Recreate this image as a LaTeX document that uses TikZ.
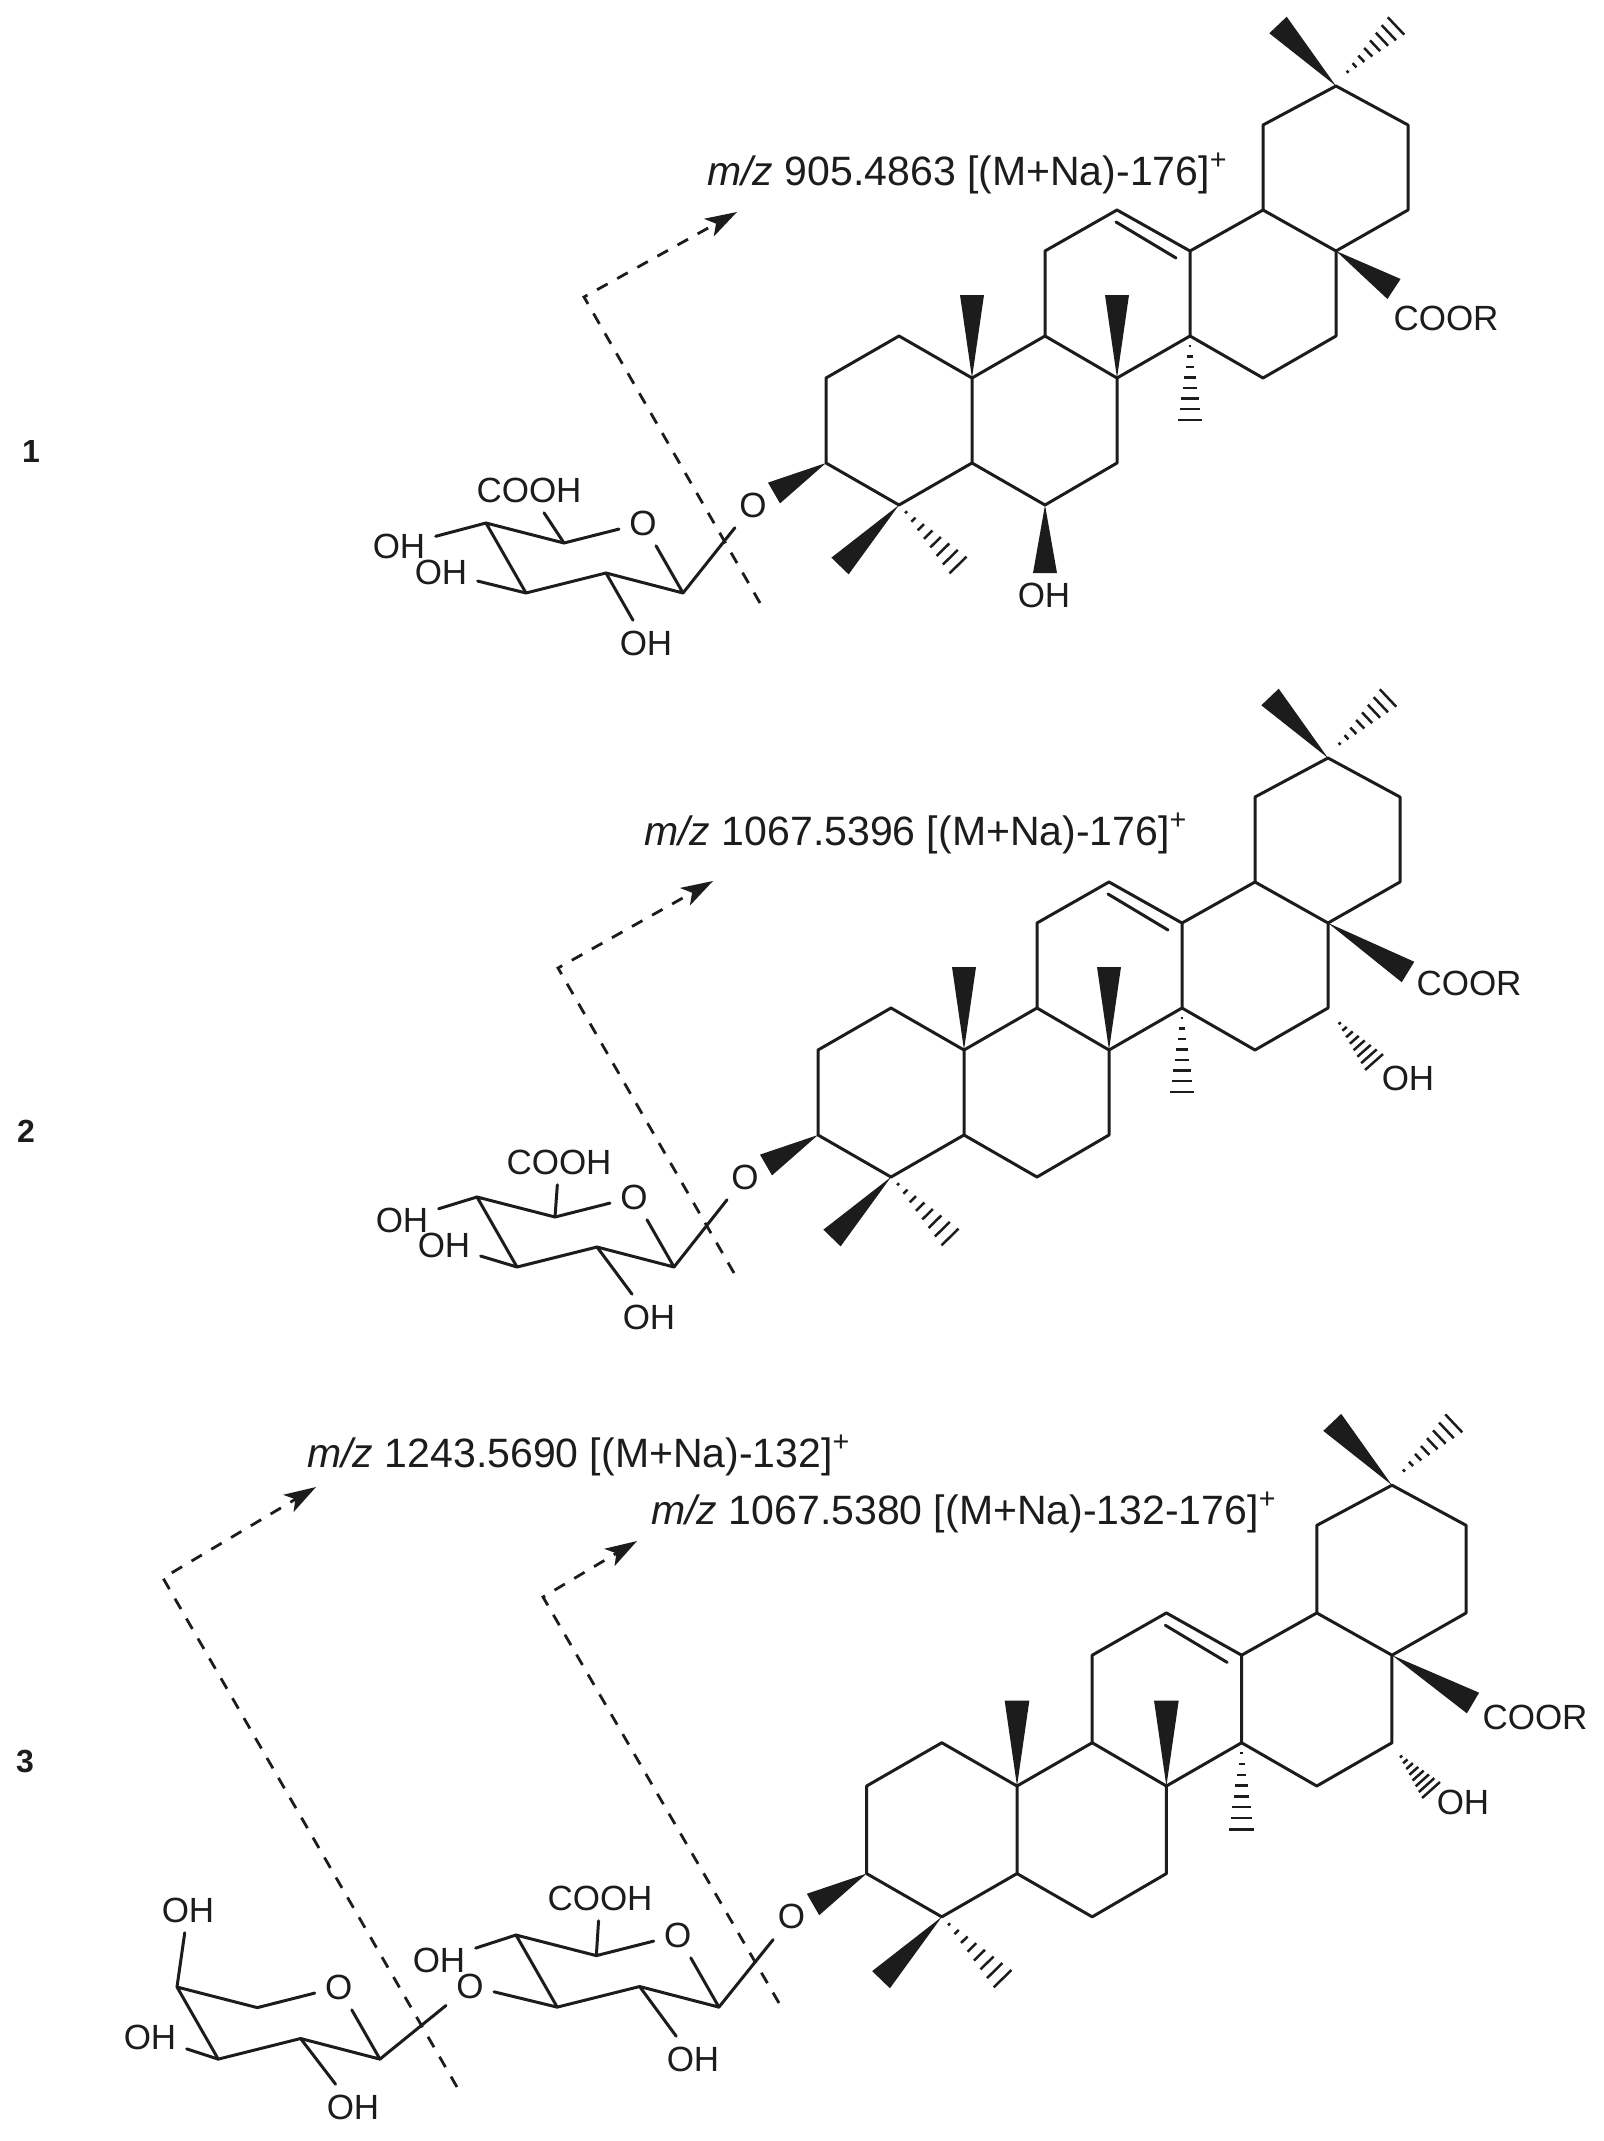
\documentclass[tikz,border=0pt]{standalone}
\usepackage{fontspec}
\setmainfont{Liberation Sans}
\usetikzlibrary{arrows.meta}
\usetikzlibrary{calc}
\definecolor{inkgray}{HTML}{1C1C1C}

% Solid wedge and hashed bond between two named atoms
\newcommand{\wedgebond}[2]{\fill[bond_fill] (#1) -- ($(#2)!6pt!90:(#1)$) -- ($(#2)!6pt!-90:(#1)$) -- cycle;}
\newcommand{\hashbond}[2]{\foreach \hpos in {0.12,0.245,0.37,0.495,0.62,0.745,0.87,1}{
    \draw[hash_line] ($(#1)!\hpos!(#2)!\hpos*6pt!90:(#1)$) -- ($(#1)!\hpos!(#2)!\hpos*6pt!-90:(#1)$);}}

% Triterpene skeleton, origin at c10
\newcommand{\triterpene}{
    \coordinate (c10) at (0,0);
    \coordinate (c5) at (0,85);
    \coordinate (c1) at (-73,-42);
    \coordinate (c2) at (-146,0);
    \coordinate (c3) at (-146,85);
    \coordinate (c4) at (-73,127);
    \coordinate (c9) at (73,-42);
    \coordinate (c8) at (145,0);
    \coordinate (c7) at (145,85);
    \coordinate (c6) at (73,127);
    \coordinate (c11) at (73,-127);
    \coordinate (c12) at (145,-168);
    \coordinate (c13) at (218,-127);
    \coordinate (c14) at (218,-42);
    \coordinate (c15) at (291,0);
    \coordinate (c16) at (364,-42);
    \coordinate (c17) at (364,-127);
    \coordinate (c18) at (291,-168);
    \coordinate (c19) at (291,-253);
    \coordinate (c20) at (364,-292);
    \coordinate (c21) at (436,-253);
    \coordinate (c22) at (436,-168);
    \coordinate (inner12) at (144,-156);
    \coordinate (inner13) at (204,-120);
    % Methyl ends
    \coordinate (m10) at (0,-83);
    \coordinate (m8) at (145,-83);
    \coordinate (m14) at (218,42);
    \coordinate (m20a) at (306,-353);
    \coordinate (m20b) at (424,-352);
    \coordinate (h20) at (369,-300);
    \coordinate (m3) at (-198,115);
    \coordinate (m4a) at (-132,188);
    \coordinate (m4b) at (-14,187);
    \node[atom] (o3) at (-219,127) {O};
    % Ring bonds
    \draw[bond] (c3) -- (c2) -- (c1) -- (c10) -- (c5) -- (c4) -- (c3);
    \draw[bond] (c5) -- (c6) -- (c7) -- (c8) -- (c9) -- (c10);
    \draw[bond] (c9) -- (c11) -- (c12) -- (c13) -- (c14) -- (c8);
    \draw[bond] (c14) -- (c15) -- (c16) -- (c17) -- (c18) -- (c13);
    \draw[bond] (c18) -- (c19) -- (c20) -- (c21) -- (c22) -- (c17);
    \draw[bond] (inner12) -- (inner13);
    % Stereo bonds
    \wedgebond{c10}{m10}
    \wedgebond{c8}{m8}
    \hashbond{c14}{m14}
    \wedgebond{c20}{m20a}
    \hashbond{h20}{m20b}
    \wedgebond{c3}{m3}
    \wedgebond{c4}{m4a}
    \hashbond{c4}{m4b}
}

% Pyranose ring, origin at the carbon top left
\newcommand{\sugarring}{
    \coordinate (a) at (0,0);
    \coordinate (b) at (78,20);
    \node[atom] (o) at (157,0) {O};
    \coordinate (d) at (197,70);
    \coordinate (e) at (120,50);
    \coordinate (f) at (40,70);
    \draw[bond] (a) -- (b) -- (o) -- (d) -- (e) -- (f) -- (a);
}

\begin{document}
\begin{tikzpicture}[
        x=0.5pt, y=-0.5pt,
        bond/.style={line width=1.5pt, inkgray, line cap=round, line join=round},
        bond_fill/.style={fill=inkgray},
        hash_line/.style={line width=1.25pt, inkgray},
        atom/.style={font=\fontsize{17.5}{20}\selectfont, text=inkgray, inner sep=5pt},
        ion_label/.style={font=\fontsize{20.5}{24}\selectfont, text=inkgray, anchor=base west, inner sep=0pt},
        number_label/.style={font=\fontsize{16}{18}\selectfont\bfseries, text=inkgray},
        cut_line/.style={line width=1.4pt, inkgray, dash pattern=on 6pt off 5.5pt, -{Stealth[length=16pt, width=10pt, inset=4pt]}}
    ]
    \useasboundingbox (0,0) rectangle (1603,2141);

    % Compound numbers
    \node[number_label] (num_one) at (31,451) {1};
    \node[number_label] (num_two) at (26,1131) {2};
    \node[number_label] (num_three) at (25,1761) {3};

    % Compound 1
    \begin{scope}[shift={(972,378)}, name prefix=one_]
        \triterpene
    \end{scope}
    \begin{scope}[shift={(486,523)}, name prefix=oneg_]
        \sugarring
    \end{scope}
    \coordinate (one_m6) at (1045,573);
    \coordinate (one_m17) at (1394,289);
    \node[atom] (one_oh6) at (1044,595) {OH};
    \node[atom] (one_coor) at (1446,318) {COOR};
    \wedgebond{one_c6}{one_m6}
    \wedgebond{one_c17}{one_m17}
    \node[atom] (oneg_oha) at (399,546) {OH};
    \node[atom] (oneg_ohf) at (441,572) {OH};
    \node[atom] (oneg_cooh) at (529,490) {COOH};
    \node[atom] (oneg_ohe) at (646,643) {OH};
    \draw[bond] (oneg_a) -- (oneg_oha);
    \draw[bond] (oneg_f) -- (oneg_ohf);
    \draw[bond] (oneg_b) -- (oneg_cooh);
    \draw[bond] (oneg_e) -- (oneg_ohe);
    \draw[bond] (oneg_d) -- (one_o3);
    \coordinate (one_cut) at (760,603);
    \coordinate (one_bend) at (584,297);
    \coordinate (one_tip) at (737,212);
    \draw[cut_line] (one_cut) -- (one_bend) -- (one_tip);
    \node[ion_label] (one_ion) at (707,185) {\textit{m/z} 905.4863 [(M+Na)-176]\textsuperscript{+}};

    % Compound 2
    \begin{scope}[shift={(964,1050)}, name prefix=two_]
        \triterpene
    \end{scope}
    \begin{scope}[shift={(477,1197)}, name prefix=twog_]
        \sugarring
    \end{scope}
    \coordinate (two_m17) at (1408,972);
    \coordinate (two_m16) at (1374,1062);
    \coordinate (two_h16) at (1335,1018);
    \node[atom] (two_coor) at (1469,983) {COOR};
    \node[atom] (two_oh16) at (1408,1078) {OH};
    \wedgebond{two_c17}{two_m17}
    \hashbond{two_h16}{two_m16}
    \node[atom] (twog_oha) at (402,1220) {OH};
    \node[atom] (twog_ohf) at (444,1245) {OH};
    \node[atom] (twog_cooh) at (559,1162) {COOH};
    \node[atom] (twog_ohe) at (649,1317) {OH};
    \draw[bond] (twog_a) -- (twog_oha);
    \draw[bond] (twog_f) -- (twog_ohf);
    \draw[bond] (twog_b) -- (twog_cooh);
    \draw[bond] (twog_e) -- (twog_ohe);
    \draw[bond] (twog_d) -- (two_o3);
    \coordinate (two_cut) at (734,1273);
    \coordinate (two_bend) at (558,968);
    \coordinate (two_tip) at (713,881);
    \draw[cut_line] (two_cut) -- (two_bend) -- (two_tip);
    \node[ion_label] (two_ion) at (644,845) {\textit{m/z} 1067.5396 [(M+Na)-176]\textsuperscript{+}};

    % Compound 3
    \begin{scope}[shift={(1017,1786)}, scale=1.03, name prefix=three_]
        \triterpene
    \end{scope}
    \begin{scope}[shift={(516,1935)}, scale=1.03, name prefix=threeg_]
        \sugarring
    \end{scope}
    \begin{scope}[shift={(177,1987)}, scale=1.03, name prefix=threex_]
        \sugarring
    \end{scope}
    \coordinate (three_m17) at (1473,1703);
    \coordinate (three_m16) at (1431,1790);
    \coordinate (three_h16) at (1397,1752);
    \node[atom] (three_coor) at (1535,1717) {COOR};
    \node[atom] (three_oh16) at (1463,1802) {OH};
    \wedgebond{three_c17}{three_m17}
    \hashbond{three_h16}{three_m16}
    \node[atom] (threeg_oha) at (439,1960) {OH};
    \node[atom] (threeg_cooh) at (600,1898) {COOH};
    \node[atom] (threeg_ohe) at (693,2059) {OH};
    \node[atom] (threeg_of) at (470,1986) {O};
    \draw[bond] (threeg_a) -- (threeg_oha);
    \draw[bond] (threeg_b) -- (threeg_cooh);
    \draw[bond] (threeg_e) -- (threeg_ohe);
    \draw[bond] (threeg_f) -- (threeg_of);
    \draw[bond] (threeg_d) -- (three_o3);
    \node[atom] (threex_oha) at (188,1910) {OH};
    \node[atom] (threex_ohf) at (150,2037) {OH};
    \node[atom] (threex_ohe) at (353,2107) {OH};
    \draw[bond] (threex_a) -- (threex_oha);
    \draw[bond] (threex_f) -- (threex_ohf);
    \draw[bond] (threex_e) -- (threex_ohe);
    \draw[bond] (threex_d) -- (threeg_of);
    \coordinate (three_cut_in) at (779,2003);
    \coordinate (three_bend_in) at (543,1597);
    \coordinate (three_tip_in) at (637,1541);
    \draw[cut_line] (three_cut_in) -- (three_bend_in) -- (three_tip_in);
    \coordinate (three_cut_out) at (457,2087);
    \coordinate (three_bend_out) at (163,1578);
    \coordinate (three_tip_out) at (316,1487);
    \draw[cut_line] (three_cut_out) -- (three_bend_out) -- (three_tip_out);
    \node[ion_label] (three_ion_out) at (307,1467) {\textit{m/z} 1243.5690 [(M+Na)-132]\textsuperscript{+}};
    \node[ion_label] (three_ion_in) at (651,1524) {\textit{m/z} 1067.5380 [(M+Na)-132-176]\textsuperscript{+}};
\end{tikzpicture}
\end{document}
